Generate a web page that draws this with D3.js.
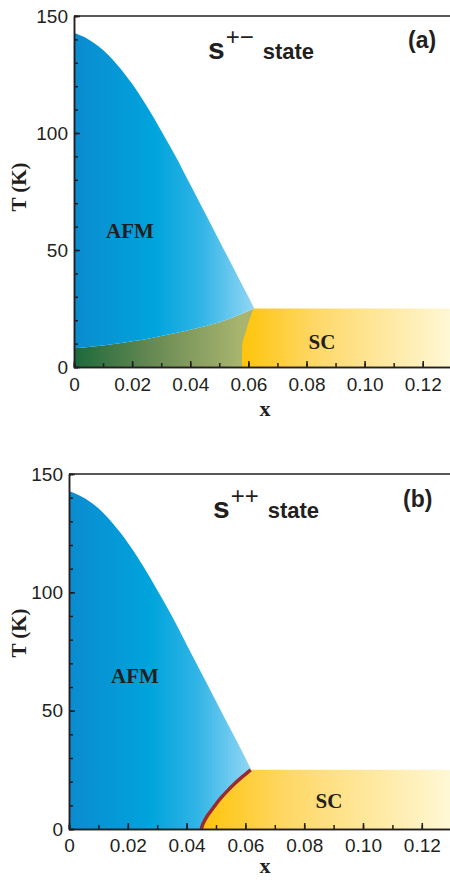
<!DOCTYPE html>
<html lang="en">

<head>
  <meta charset="UTF-8">
  <title>s+- vs s++ phase diagram</title>
  <style>
    html,
    body {
      margin: 0;
      padding: 0;
      background: #fff;
    }

    svg {
      display: block;
    }

    .tick text {
      font-family: 'Liberation Sans', Arial, sans-serif;
      font-size: 19px;
      fill: #231f20;
    }
  </style>
  <script src="https://cdn.jsdelivr.net/npm/d3@7"></script>
</head>

<body>
  <svg id="chart" width="450" height="880"></svg>
  <script>
    //
    // Data
    //

    // upper AFM boundary T_N(x), same in both panels
    var tnX = [0, 0.005, 0.010, 0.015, 0.020, 0.025, 0.030, 0.035, 0.040, 0.045, 0.050, 0.055, 0.060, 0.062]
    var tnT = [142.8, 140, 135.5, 129, 121, 111.5, 101, 90, 78, 66, 54, 42, 30, 25]
    // lower AFM boundary in (a), on the same x grid
    var lowT = [8, 8.5, 9.2, 10, 11, 12, 13.2, 14.5, 15.9, 17.4, 19.1, 21.4, 23.9, 25]
    // left edge of the SC phase, T -> x
    var scAT = [0, 5, 10, 12, 15, 20, 25]
    var scAX = [0.0578, 0.0578, 0.0579, 0.0583, 0.0591, 0.0603, 0.0618]
    var scBT = [0, 2, 4, 6, 8, 10, 13, 16, 19, 22, 25]
    var scBX = [0.0450, 0.0455, 0.0463, 0.0473, 0.0485, 0.0497, 0.0516, 0.0538, 0.0562, 0.0589, 0.0618]
    var xMax = 0.13

    var xMajor = [0, 0.02, 0.04, 0.06, 0.08, 0.10, 0.12]
    var xLabels = ['0', '0.02', '0.04', '0.06', '0.08', '0.10', '0.12']
    var xMinor = d3.range(0, 0.1301, 0.01)
    var yMajor = [0, 50, 100, 150]
    var yMinor = d3.range(0, 151, 10)

    //
    // Colors
    //

    var ink = '#231f20'
    var blueStops = [[0, '#0b8bd0'], [0.45, '#00a4dc'], [0.7, '#30b4e6'], [1, '#93d6f4']]
    var greenStops = [[0, '#1c693b'], [0.5, '#6c8c55'], [1, '#a9b56f']]
    var scStops = [[0, '#ffc40a'], [0.35, '#fed867'], [1, '#fff8d6']]
    var edgeColor = '#9b2a2f'

    var svg = d3.select('#chart')
    var defs = svg.append('defs')

    function gradient(id, stops, x1, x2) {
      var g = defs.append('linearGradient')
        .attr('id', id)
        .attr('gradientUnits', 'userSpaceOnUse')
        .attr('x1', x1).attr('x2', x2)
        .attr('y1', 0).attr('y2', 0)
      stops.forEach(function (s) {
        g.append('stop').attr('offset', s[0]).attr('stop-color', s[1])
      })
      return 'url(#' + id + ')'
    }

    function zip(a, b) {
      return a.map(function (v, i) { return [v, b[i]] })
    }

    //
    // Panel
    //

    function panel(p) {
      var x = d3.scaleLinear().domain([0, xMax]).range([p.left, p.right])
      var y = d3.scaleLinear().domain([0, 150]).range([p.bottom, p.top])
      var g = svg.append('g')

      defs.append('clipPath').attr('id', 'clip-' + p.id)
        .append('rect')
        .attr('x', p.left).attr('y', p.top)
        .attr('width', p.right - p.left).attr('height', p.bottom - p.top)

      var plot = g.append('g').attr('clip-path', 'url(#clip-' + p.id + ')')

      var blue = gradient('blue-' + p.id, blueStops, x(0), x(0.062))
      var sc = gradient('sc-' + p.id, scStops, x(p.scX[0]), x(xMax))

      var tn = zip(tnX, tnT)

      if (p.id === 'a') {
        var green = gradient('green-' + p.id, greenStops, x(0), x(p.scX[0]))
        var low = zip(tnX, lowT)
        plot.append('path')
          .attr('fill', green)
          .attr('d', d3.area().curve(d3.curveMonotoneX)
            .x(function (d) { return x(d[0]) })
            .y0(y(0))
            .y1(function (d) { return y(d[1]) })(low))
        plot.append('path')
          .attr('fill', blue)
          .attr('d', d3.area().curve(d3.curveMonotoneX)
            .x(function (d) { return x(d[0]) })
            .y0(function (d, i) { return y(lowT[i]) })
            .y1(function (d) { return y(d[1]) })(tn))
      } else {
        plot.append('path')
          .attr('fill', blue)
          .attr('d', d3.area().curve(d3.curveMonotoneX)
            .x(function (d) { return x(d[0]) })
            .y0(y(0))
            .y1(function (d) { return y(d[1]) })(tn))
      }

      // SC dome
      var edge = zip(p.scT, p.scX)
      plot.append('path')
        .attr('fill', sc)
        .attr('d', d3.area().curve(d3.curveMonotoneY)
          .y(function (d) { return y(d[0]) })
          .x0(function (d) { return x(d[1]) })
          .x1(x(xMax))(edge))

      if (p.id === 'b') {
        plot.append('path')
          .attr('fill', 'none')
          .attr('stroke', edgeColor)
          .attr('stroke-width', 3.5)
          .attr('d', d3.line().curve(d3.curveMonotoneY)
            .y(function (d) { return y(d[0]) })
            .x(function (d) { return x(d[1]) })(edge))
      }

      // axes, ticks inward
      g.append('g')
        .attr('transform', 'translate(0,' + p.bottom + ')')
        .call(d3.axisBottom(x).tickValues(xMinor).tickSize(-4).tickFormat(''))
      g.append('g')
        .attr('transform', 'translate(0,' + p.bottom + ')')
        .call(d3.axisBottom(x).tickValues(xMajor).tickSize(-6).tickSizeOuter(0)
          .tickPadding(p.xPad)
          .tickFormat(function (d, i) { return xLabels[i] }))
      g.append('g')
        .attr('transform', 'translate(' + p.left + ',0)')
        .call(d3.axisLeft(y).tickValues(yMinor).tickSize(-4).tickFormat(''))
      g.append('g')
        .attr('transform', 'translate(' + p.left + ',0)')
        .call(d3.axisLeft(y).tickValues(yMajor).tickSize(-6).tickSizeOuter(0).tickPadding(6))
      g.selectAll('.domain, .tick line').attr('stroke', ink).attr('stroke-width', 1.5)

      g.append('line')
        .attr('x1', p.left).attr('x2', p.right)
        .attr('y1', y(150)).attr('y2', y(150))
        .attr('stroke', ink).attr('stroke-width', 1.5)

      // labels
      var serif = "'Liberation Serif', 'Times New Roman', serif"
      var sans = "'Liberation Sans', Arial, sans-serif"

      g.append('text')
        .attr('transform', 'translate(26,' + p.yLabelY + ') rotate(-90)')
        .attr('text-anchor', 'middle')
        .style('font', 'bold 21px ' + serif).attr('fill', ink)
        .text('T (K)')
      g.append('text')
        .attr('x', 265).attr('y', p.xLabelY)
        .attr('text-anchor', 'middle')
        .style('font', 'bold 22px ' + serif).attr('fill', ink)
        .text('x')

      g.append('text')
        .attr('x', p.afm[0]).attr('y', p.afm[1])
        .attr('text-anchor', 'middle')
        .style('font', 'bold 21px ' + serif).attr('fill', ink)
        .text('AFM')
      g.append('text')
        .attr('x', p.scLabel[0]).attr('y', p.scLabel[1])
        .attr('text-anchor', 'middle')
        .style('font', 'bold 21px ' + serif).attr('fill', ink)
        .text('SC')

      var title = g.append('text')
        .attr('x', p.title[0]).attr('y', p.title[1])
        .style('font-family', sans).style('font-weight', 'bold').attr('fill', ink)
      title.append('tspan').style('font-size', '30px').text('s')
      title.append('tspan').style('font-size', '24px').style('font-weight', 'normal')
        .attr('dx', 1).attr('dy', -14).text(p.sup)
      title.append('tspan').style('font-size', '22px').attr('dx', 9).attr('dy', 14).text('state')

      g.append('text')
        .attr('x', p.tag[0]).attr('y', p.tag[1])
        .style('font', 'bold 23px ' + sans).attr('fill', ink)
        .text(p.tagText)
    }

    //
    // Init
    //

    panel({
      id: 'a', left: 74, right: 451.8, top: 16, bottom: 367,
      scT: scAT, scX: scAX, xPad: 11,
      yLabelY: 187, xLabelY: 416,
      afm: [130, 238], scLabel: [322, 349],
      title: [208, 59], sup: '+\u2212', tag: [408, 48], tagText: '(a)'
    })

    panel({
      id: 'b', left: 69, right: 451.2, top: 474, bottom: 829,
      scT: scBT, scX: scBX, xPad: 10,
      yLabelY: 633, xLabelY: 873,
      afm: [135, 683], scLabel: [329, 808],
      title: [213, 518], sup: '++', tag: [403, 507], tagText: '(b)'
    })
  </script>
</body>

</html>
